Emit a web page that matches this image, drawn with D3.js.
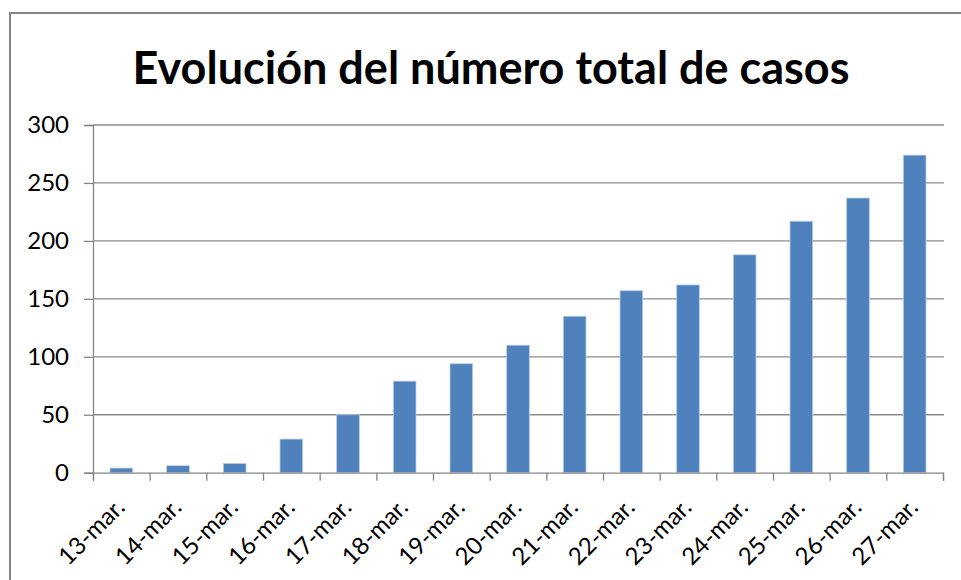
<!DOCTYPE html>
<html>
<head>
<meta charset="utf-8">
<style>
body { margin: 0; background: #fff; }
svg text { font-family: Lato, "Open Sans", sans-serif; fill: #000; }
.axis path, .axis line { stroke: #868686; }
.grid line { stroke: #8c8c8c; }
</style>
<script src="https://d3js.org/d3.v7.min.js"></script>
</head>
<body>
<svg id="chart" width="961" height="580"></svg>
<script>
// datos
var fechas = ["13-mar.", "14-mar.", "15-mar.", "16-mar.", "17-mar.", "18-mar.", "19-mar.",
              "20-mar.", "21-mar.", "22-mar.", "23-mar.", "24-mar.", "25-mar.", "26-mar.", "27-mar."];
var casos = [4, 6, 8, 29, 50, 79, 94, 110, 135, 157, 162, 188, 217, 237, 274];
var yTicks = [0, 50, 100, 150, 200, 250, 300];
var titulo = "Evolución del número total de casos";

var svg = d3.select("#chart");
var plotLeft = 93, plotRight = 943, plotTop = 125, plotBottom = 472.7;

// marco exterior
svg.append("rect")
  .attr("x", 10).attr("y", 13)
  .attr("width", 980).attr("height", 600)
  .attr("fill", "none")
  .attr("stroke", "#868686")
  .attr("stroke-width", 2);

svg.append("text")
  .attr("x", 491).attr("y", 84)
  .attr("text-anchor", "middle")
  .style("font-size", "45px")
  .style("font-weight", "bold")
  .text(titulo);

var x = d3.scaleBand()
  .domain(fechas)
  .range([plotLeft, plotRight])
  .paddingInner(0.6)
  .paddingOuter(0.3);

var y = d3.scaleLinear()
  .domain([0, 300])
  .range([plotBottom, plotTop]);

// lineas de cuadricula
svg.append("g")
  .attr("class", "grid")
  .selectAll("line")
  .data(yTicks.slice(1))
  .enter()
  .append("line")
  .attr("x1", plotLeft).attr("x2", plotRight + 1)
  .attr("y1", function(d) { return y(d); })
  .attr("y2", function(d) { return y(d); })
  .attr("stroke-width", 1.3);

svg.append("g")
  .selectAll("rect")
  .data(casos)
  .enter()
  .append("rect")
  .attr("x", function(d, i) { return x(fechas[i]); })
  .attr("y", function(d) { return y(d); })
  .attr("width", x.bandwidth())
  .attr("height", function(d) { return plotBottom - y(d); })
  .attr("fill", "#4f81bd")
  .attr("stroke", "#b9cde5")
  .attr("stroke-width", 0.8);

// eje y
var axisY = d3.axisLeft(y).tickValues(yTicks).tickSize(9).tickPadding(15);
var gy = svg.append("g")
  .attr("class", "axis")
  .attr("transform", "translate(" + plotLeft + ",0)")
  .call(axisY);
gy.selectAll("text").style("font-size", "24px");
gy.selectAll("line, path").attr("stroke-width", 1.3);

// marcas del eje x en los limites de cada categoria
var xb = d3.scaleLinear().domain([0, fechas.length]).range([plotLeft, plotRight]);
var gx = svg.append("g")
  .attr("class", "axis")
  .attr("transform", "translate(0," + plotBottom + ")")
  .call(d3.axisBottom(xb).tickValues(d3.range(fechas.length + 1)).tickSize(8).tickFormat(""));
gx.selectAll("line, path").attr("stroke-width", 1.3);

var gl = svg.append("g")
  .attr("transform", "translate(0," + plotBottom + ")")
  .call(d3.axisBottom(x).tickSize(0).tickPadding(0));
gl.select("path").remove();
gl.selectAll("text")
  .style("font-size", "24px")
  .attr("text-anchor", "end")
  .attr("dy", "0.35em")
  .attr("transform", "translate(-1,30) rotate(-45)");
</script>
</body>
</html>
